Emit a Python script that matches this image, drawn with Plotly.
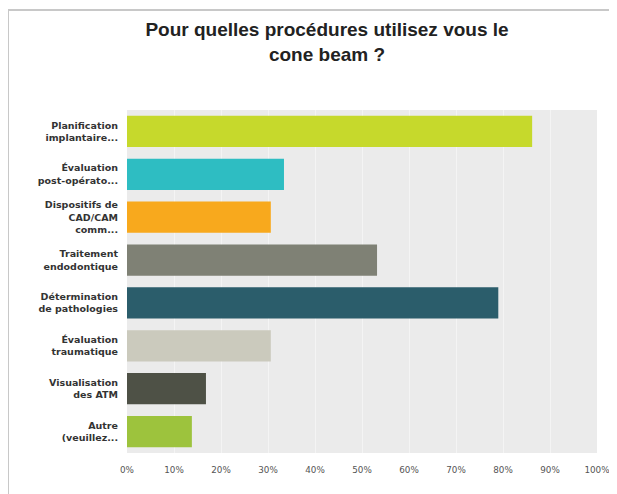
import plotly.graph_objects as go

categories = [
    "Planification<br>implantaire...",
    "Évaluation<br>post-opérato...",
    "Dispositifs de<br>CAD/CAM<br>comm...",
    "Traitement<br>endodontique",
    "Détermination<br>de pathologies",
    "Évaluation<br>traumatique",
    "Visualisation<br>des ATM",
    "Autre<br>(veuillez...",
]
values = [86.2, 33.4, 30.6, 53.2, 79.0, 30.6, 16.8, 13.8]
bar_colors = ["#c6d92c", "#2ebdc2", "#f8a91d", "#7f8175", "#2b5d6b",
              "#cbcabd", "#4e5146", "#9dc33d"]
tick_vals = [0, 10, 20, 30, 40, 50, 60, 70, 80, 90, 100]
tick_text = [f"{v}%" for v in tick_vals]

fig = go.Figure(go.Bar(
    x=values, y=categories, orientation="h",
    marker=dict(color=bar_colors, line=dict(width=0)),
    hoverinfo="x+y",
))

# page is drawn with an 8px body margin; offset figure coordinates accordingly
OFF = 8
W, H = 617, 494
L, R, T, B = 127 - OFF, 28, 110 - OFF, 49
pw, ph = W - L - R, H - T - B

def px(x):
    return (x - OFF - L) / pw

def py(y):
    return (H - B - (y - OFF)) / ph

fig.update_layout(
    width=W, height=H,
    margin=dict(l=L, r=R, t=T, b=B, pad=0, autoexpand=False),
    paper_bgcolor="white",
    plot_bgcolor="#ebebeb",
    bargap=0.27,
    showlegend=False,
    title=dict(
        text="<b>Pour quelles procédures utilisez vous le<br>cone beam ?</b>",
        x=(327 - OFF) / W, xanchor="center",
        y=1 - (36 - OFF) / H, yanchor="top",
        automargin=False,
        font=dict(family="Liberation Sans, Arial", size=19, color="#222222"),
    ),
    xaxis=dict(
        range=[0, 100], tickvals=tick_vals, ticktext=tick_text,
        showgrid=True, gridcolor="#f4f4f4", gridwidth=1,
        zeroline=False, showline=False, ticks="", automargin=False,
        ticklabelstandoff=10,
        tickfont=dict(family="DejaVu Sans, Verdana", size=8.8, color="#555555"),
        fixedrange=True,
    ),
    yaxis=dict(
        autorange="reversed", showgrid=False, zeroline=False, ticks="",
        automargin=False,
        ticklabelstandoff=8,
        tickfont=dict(family="DejaVu Sans, Verdana", size=9.5, color="#333333",
                      weight="bold"),
        fixedrange=True,
    ),
    shapes=[
        dict(type="line", xref="paper", yref="paper",
             x0=px(8), x1=px(8), y0=py(10), y1=py(500),
             line=dict(color="#c8c8c8", width=2)),
        dict(type="line", xref="paper", yref="paper",
             x0=px(8), x1=px(625), y0=py(10), y1=py(10),
             line=dict(color="#c8c8c8", width=2)),
    ],
)

fig.write_html("out.html")
